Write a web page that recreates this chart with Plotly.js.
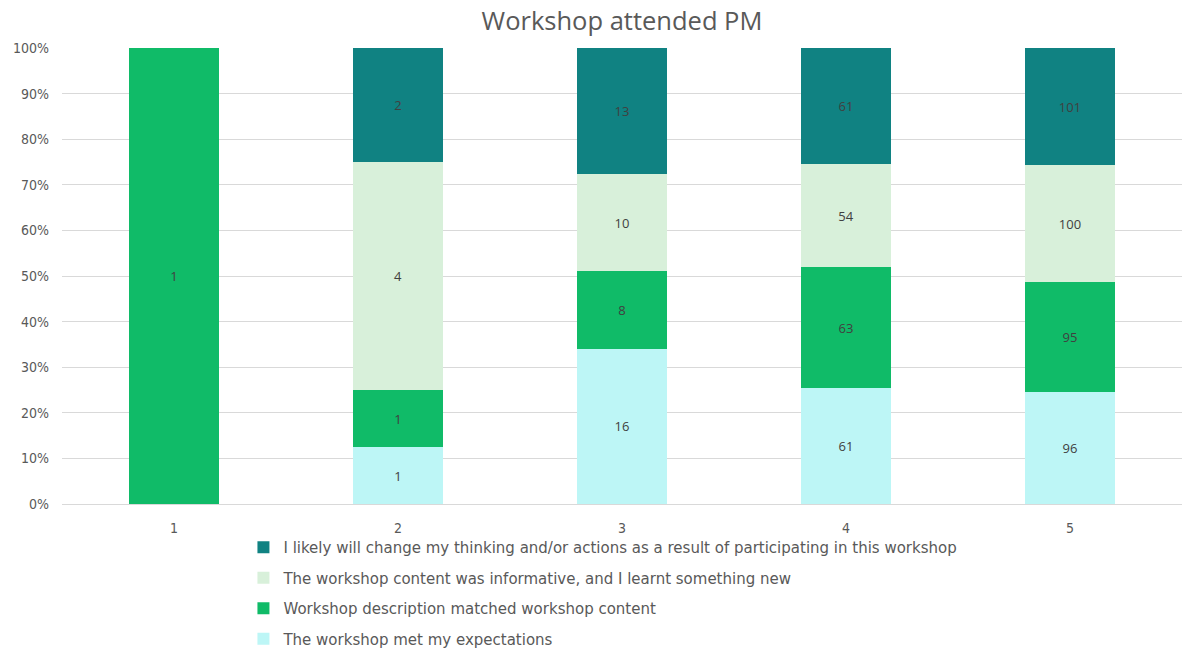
<!DOCTYPE html>
<html>
<head>
<meta charset="utf-8">
<script src="https://cdn.plot.ly/plotly-3.0.1.min.js"></script>
<style>html,body{margin:0;padding:0;background:#fff;}#chart{width:1185px;height:651px;}</style>
</head>
<body>
<div id="chart"></div>
<script>
var categories = ['1', '2', '3', '4', '5'];
var seriesNames = [
  'The workshop met my expectations',
  'Workshop description matched workshop content',
  'The workshop content was informative, and I learnt something new',
  'I likely will change my thinking and/or actions as a result of participating in this workshop'
];
var metExpectations = [0, 1, 16, 61, 96];
var descriptionMatched = [1, 1, 8, 63, 95];
var contentInformative = [0, 4, 10, 54, 100];
var likelyChange = [0, 2, 13, 61, 101];
var seriesColors = ['#BDF6F6', '#10BB68', '#D8F0DA', '#108282'];

var allValues = [metExpectations, descriptionMatched, contentInformative, likelyChange];

var bodyFont = '"DejaVu Sans", sans-serif';
var tickFont = '"DejaVu Sans Condensed", "DejaVu Sans", sans-serif';
var labelFont = '"Open Sans", "Noto Sans", sans-serif';

var traces = allValues.map(function (vals, i) {
  return {
    type: 'bar',
    name: seriesNames[i],
    x: categories,
    y: vals,
    legendgroup: 'g' + i,
    legendrank: 1000 - i,
    marker: {color: seriesColors[i], line: {width: 0}},
    text: vals.map(function (v) { return v ? String(v) : ''; }),
    textposition: 'inside',
    insidetextanchor: 'middle',
    textangle: 0,
    textfont: {family: labelFont, size: 13, color: '#404040'},
    hoverinfo: 'name+y'
  };
});

var layout = {
  width: 1185,
  height: 651,
  paper_bgcolor: '#ffffff',
  plot_bgcolor: '#ffffff',
  barmode: 'stack',
  barnorm: 'percent',
  bargap: 0.6,
  margin: {l: 62, r: 3, t: 48, b: 147, autoexpand: false},
  title: {
    text: 'Workshop attended PM',
    font: {family: labelFont, size: 25.5, color: '#595959'},
    x: 0.5,
    xref: 'paper',
    xanchor: 'center',
    y: 0.968,
    yanchor: 'middle'
  },
  xaxis: {
    type: 'category',
    tickfont: {family: tickFont, size: 14, color: '#595959'},
    showgrid: false,
    showline: true,
    linecolor: '#d9d9d9',
    linewidth: 1,
    ticks: '',
    ticklabelstandoff: 11,
    fixedrange: true
  },
  yaxis: {
    range: [0, 100],
    dtick: 10,
    tick0: 0,
    ticksuffix: '%',
    tickfont: {family: tickFont, size: 14, color: '#595959'},
    gridcolor: '#d9d9d9',
    gridwidth: 1,
    zeroline: false,
    showline: false,
    ticks: '',
    ticklabelstandoff: 12,
    fixedrange: true
  },
  showlegend: true,
  legend: {
    orientation: 'v',
    traceorder: 'grouped',
    x: 0.162,
    xanchor: 'left',
    y: -0.059,
    yanchor: 'top',
    font: {family: bodyFont, size: 15, color: '#595959'},
    tracegroupgap: 8,
    itemwidth: 30,
    bgcolor: 'rgba(0,0,0,0)'
  }
};

Plotly.newPlot('chart', traces, layout, {displayModeBar: false, staticPlot: true});
</script>
</body>
</html>
